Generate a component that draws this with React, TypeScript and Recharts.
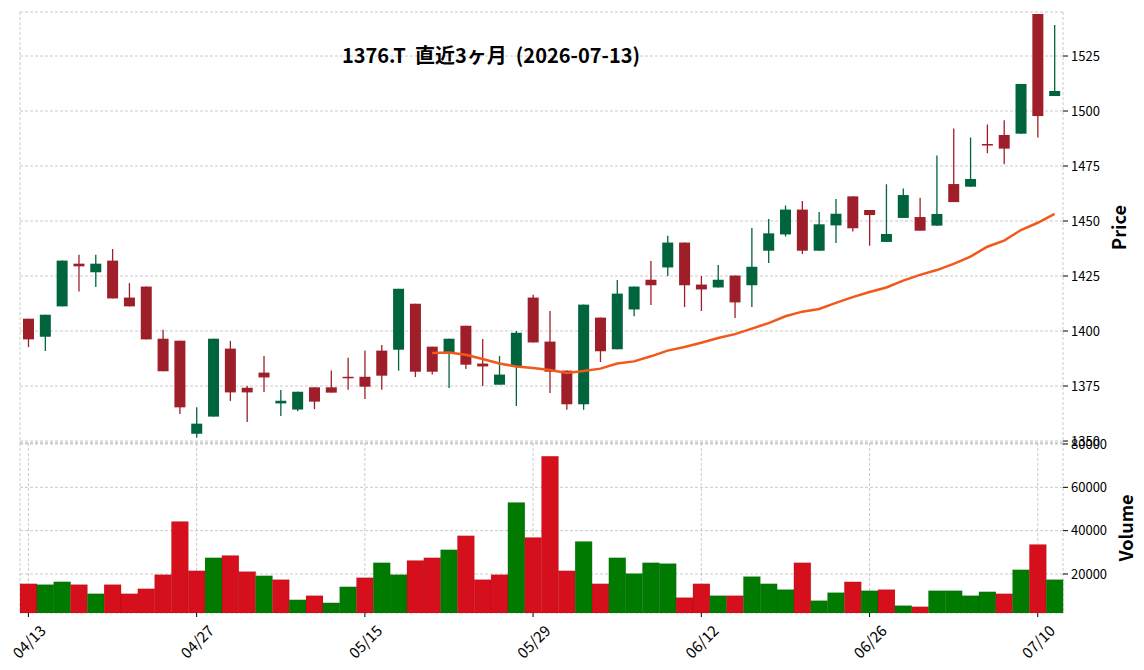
import React from "react";
import { ComposedChart, Bar, Line, XAxis, YAxis, CartesianGrid, Cell } from "recharts";

// 2026-04-13 .. 2026-07-13 (TSE trading days)
const dates = [
  "04/13", "04/14", "04/15", "04/16", "04/17", "04/20", "04/21", "04/22", "04/23", "04/24",
  "04/27", "04/28", "04/30", "05/01", "05/07", "05/08", "05/11", "05/12", "05/13", "05/14",
  "05/15", "05/18", "05/19", "05/20", "05/21", "05/22", "05/25", "05/26", "05/27", "05/28",
  "05/29", "06/01", "06/02", "06/03", "06/04", "06/05", "06/08", "06/09", "06/10", "06/11",
  "06/12", "06/15", "06/16", "06/17", "06/18", "06/19", "06/22", "06/23", "06/24", "06/25",
  "06/26", "06/29", "06/30", "07/01", "07/02", "07/03", "07/06", "07/07", "07/08", "07/09",
  "07/10", "07/13",
];

const opens = [
  1405.6, 1397.4, 1411.2, 1430.6, 1426.7, 1432.0, 1415.2, 1420.2, 1396.5, 1395.6,
  1353.3, 1361.1, 1392.0, 1374.2, 1381.1, 1367.1, 1364.3, 1374.4, 1374.4, 1379.2,
  1379.2, 1391.1, 1391.5, 1412.4, 1392.9, 1390.3, 1402.4, 1385.2, 1375.6, 1383.8,
  1415.2, 1395.2, 1382.0, 1366.7, 1406.1, 1391.7, 1409.8, 1423.3, 1428.9, 1440.2,
  1421.1, 1419.8, 1425.2, 1420.8, 1436.5, 1443.9, 1455.2, 1436.5, 1448.0, 1461.2,
  1455.0, 1440.5, 1451.4, 1451.8, 1447.9, 1466.8, 1465.6, 1485.0, 1489.1, 1489.7,
  1544.1, 1506.8,
];
const highs = [
  1405.6, 1407.4, 1432.0, 1434.7, 1434.7, 1437.3, 1421.8, 1420.2, 1400.6, 1395.6,
  1365.3, 1396.5, 1395.5, 1375.0, 1388.6, 1373.2, 1372.4, 1374.4, 1382.0, 1387.9,
  1391.1, 1393.6, 1419.2, 1412.4, 1392.9, 1396.5, 1402.4, 1396.4, 1388.6, 1400.0,
  1416.5, 1409.1, 1382.0, 1412.0, 1406.1, 1423.2, 1420.2, 1431.8, 1443.3, 1440.2,
  1425.0, 1430.0, 1425.2, 1446.8, 1450.9, 1457.0, 1459.1, 1454.1, 1460.0, 1461.2,
  1455.0, 1466.7, 1464.8, 1460.6, 1479.8, 1492.1, 1488.0, 1493.9, 1495.8, 1512.3,
  1544.1, 1539.1,
];
const lows = [
  1392.7, 1390.9, 1411.2, 1418.0, 1420.0, 1414.8, 1411.2, 1396.2, 1381.7, 1362.3,
  1351.5, 1361.1, 1368.2, 1358.6, 1372.3, 1361.4, 1363.5, 1364.5, 1372.0, 1373.3,
  1369.1, 1373.3, 1382.0, 1379.1, 1380.2, 1374.1, 1382.7, 1375.0, 1375.6, 1365.9,
  1394.8, 1371.8, 1364.2, 1364.2, 1385.9, 1391.7, 1406.7, 1411.8, 1425.0, 1410.9,
  1409.1, 1419.8, 1405.9, 1410.9, 1430.9, 1443.0, 1435.0, 1436.5, 1440.0, 1445.2,
  1438.8, 1440.5, 1451.4, 1445.6, 1447.9, 1458.6, 1465.6, 1480.8, 1475.8, 1489.7,
  1488.0, 1506.8,
];
const closes = [
  1396.2, 1407.4, 1432.0, 1429.4, 1430.6, 1414.8, 1411.2, 1396.2, 1381.7, 1365.3,
  1357.9, 1396.5, 1372.1, 1372.1, 1378.9, 1368.3, 1372.4, 1367.9, 1372.0, 1378.8,
  1374.7, 1379.7, 1419.2, 1381.5, 1381.5, 1396.5, 1384.7, 1383.9, 1380.2, 1399.2,
  1394.8, 1381.5, 1366.7, 1412.0, 1390.8, 1417.0, 1420.2, 1420.8, 1440.2, 1420.8,
  1418.9, 1423.3, 1413.0, 1429.2, 1444.4, 1455.2, 1436.5, 1448.5, 1453.3, 1446.7,
  1452.7, 1444.1, 1461.8, 1445.6, 1453.2, 1458.6, 1469.1, 1484.5, 1482.9, 1512.3,
  1497.7, 1509.1,
];

// 25-day moving average as drawn (first 24 sessions empty)
const ma25 = [
  null, null, null, null, null, null, null, null, null, null,
  null, null, null, null, null, null, null, null, null, null,
  null, null, null, null, 1390.0, 1390.2, 1389.2, 1387.3, 1385.2, 1383.9,
  1383.2, 1382.3, 1380.9, 1381.8, 1382.9, 1385.2, 1386.2, 1388.5, 1391.1, 1392.7,
  1394.7, 1396.8, 1398.6, 1401.1, 1403.6, 1406.7, 1408.8, 1410.0, 1412.8, 1415.4,
  1417.7, 1419.8, 1422.9, 1425.5, 1427.7, 1430.5, 1433.8, 1438.3, 1441.1, 1445.9,
  1449.2, 1453.2,
];

const volumes = [
  15500, 15100, 16400, 15100, 10900, 15100, 10900, 13200, 19700, 44200,
  21500, 27500, 28500, 21100, 19200, 17400, 8100, 10000, 6700, 14100,
  18300, 25200, 19700, 26200, 27500, 31200, 37700, 17400, 19700, 53000,
  36800, 74300, 21500, 35000, 15500, 27500, 20200, 25200, 24800, 9100,
  15500, 10000, 10000, 18800, 15500, 12800, 25200, 7700, 11400, 16400,
  12300, 12800, 5400, 4900, 12300, 12300, 10000, 11800, 10900, 22000,
  33600, 17400,
];
// u = close above previous close, d = below
const volDir = [
  "d", "u", "u", "d", "u", "d", "d", "d", "d", "d",
  "d", "u", "d", "d", "u", "d", "u", "d", "u", "u",
  "d", "u", "u", "d", "d", "u", "d", "d", "d", "u",
  "d", "d", "d", "u", "d", "u", "u", "u", "u", "d",
  "d", "u", "d", "u", "u", "u", "d", "u", "u", "d",
  "u", "d", "u", "d", "u", "u", "u", "u", "d", "u",
  "d", "u",
];

const priceTicks = [1350, 1375, 1400, 1425, 1450, 1475, 1500, 1525];
const volTicks = [20000, 40000, 60000, 80000];

const UP = "#00643c";
const DOWN = "#9e1f29";
const VOL_UP = "#007a00";
const VOL_DOWN = "#d50f1c";
const MA_COLOR = "#f2581b";
const GRID = "#bdbdbd";
const FONT = '"Noto Sans CJK JP", "Noto Sans", sans-serif';

const data = dates.map((d, i) => ({
  date: d,
  open: opens[i],
  high: highs[i],
  low: lows[i],
  close: closes[i],
  range: [lows[i], highs[i]],
  ma: ma25[i],
  volume: volumes[i],
}));

const Candle = (props: any) => {
  const { x, y, width, height, payload } = props;
  if (!payload) return null;
  const { open, close, high, low } = payload;
  const color = close >= open ? UP : DOWN;
  const span = high - low || 1;
  const toY = (p: number) => y + ((high - p) / span) * height;
  const top = toY(Math.max(open, close));
  const bot = toY(Math.min(open, close));
  const cx = x + width / 2;
  return (
    <g>
      <line x1={cx} x2={cx} y1={y} y2={y + height} stroke={color} strokeWidth={1.3} />
      <rect x={x} y={top} width={width} height={Math.max(bot - top, 1.5)} fill={color} />
    </g>
  );
};

const DateTick = ({ x, y, payload }: any) => (
  <text
    x={x}
    y={y + 22}
    transform={`rotate(-45 ${x} ${y + 22})`}
    textAnchor="middle"
    dominantBaseline="central"
    fontSize={15}
    fontFamily={FONT}
    fill="#000"
  >
    {payload.value}
  </text>
);

const axisLabel = (text: string, dx: number) => (p: any) => {
  const vb = p.viewBox;
  const cx = vb.x + dx;
  const cy = vb.y + vb.height / 2;
  return (
    <text
      x={cx}
      y={cy}
      transform={`rotate(-90 ${cx} ${cy})`}
      textAnchor="middle"
      dominantBaseline="central"
      fontSize={18}
      fontWeight={600}
      fontFamily={FONT}
      fill="#000"
    >
      {text}
    </text>
  );
};

const tickStyle = { fontSize: 13, fontFamily: FONT, fill: "#000" };

export default function App() {
  return (
    <div style={{ position: "absolute", left: 0, top: 0, width: 1144, height: 670, background: "#fff" }}>
      <div style={{ position: "absolute", left: 0, top: 0 }}>
        <ComposedChart width={1144} height={463} data={data} margin={{ top: 12, right: 0, bottom: 20, left: 20 }}>
          <CartesianGrid stroke={GRID} strokeDasharray="3 2" strokeWidth={0.8} />
          <XAxis dataKey="date" interval={9} height={0} tick={false} tickLine={false} axisLine={false} />
          <YAxis
            orientation="right"
            width={81}
            domain={[1349.1, 1545]}
            allowDataOverflow
            ticks={priceTicks}
            interval={0}
            tick={tickStyle}
            tickSize={5}
            tickMargin={3}
            axisLine={false}
            tickLine={{ stroke: "#000" }}
            label={{ content: axisLabel("Price", 55) }}
          />
          <Bar dataKey="range" barSize={11} isAnimationActive={false} shape={(p: any) => <Candle {...p} />} />
          <Line
            dataKey="ma"
            type="linear"
            stroke={MA_COLOR}
            strokeWidth={2.5}
            dot={false}
            activeDot={false}
            connectNulls={false}
            isAnimationActive={false}
          />
        </ComposedChart>
      </div>
      <div style={{ position: "absolute", left: 0, top: 423 }}>
        <ComposedChart
          width={1144}
          height={247}
          data={data}
          barCategoryGap={0}
          margin={{ top: 20, right: 0, bottom: 0, left: 20 }}
        >
          <CartesianGrid stroke={GRID} strokeDasharray="3 2" strokeWidth={0.8} />
          <XAxis
            dataKey="date"
            interval={9}
            height={57}
            tick={<DateTick />}
            tickSize={4}
            axisLine={false}
            tickLine={{ stroke: "#000" }}
          />
          <YAxis
            orientation="right"
            width={81}
            domain={[2000, 80460]}
            allowDataOverflow
            ticks={volTicks}
            interval={0}
            tick={tickStyle}
            tickSize={5}
            tickMargin={3}
            axisLine={false}
            tickLine={{ stroke: "#000" }}
            label={{ content: axisLabel("Volume", 62) }}
          />
          <Bar dataKey="volume" isAnimationActive={false} stroke="rgba(0,0,0,0.12)" strokeWidth={0.6}>
            {data.map((_, i) => (
              <Cell key={i} fill={volDir[i] === "u" ? VOL_UP : VOL_DOWN} />
            ))}
          </Bar>
        </ComposedChart>
      </div>
      <div
        style={{
          position: "absolute",
          left: 0,
          top: 43,
          width: 982,
          textAlign: "center",
          whiteSpace: "pre",
          fontFamily: FONT,
          fontWeight: 700,
          fontSize: 20,
          lineHeight: "24px",
          color: "#000",
        }}
      >
        {"1376.T  直近3ヶ月  (2026-07-13)"}
      </div>
    </div>
  );
}
